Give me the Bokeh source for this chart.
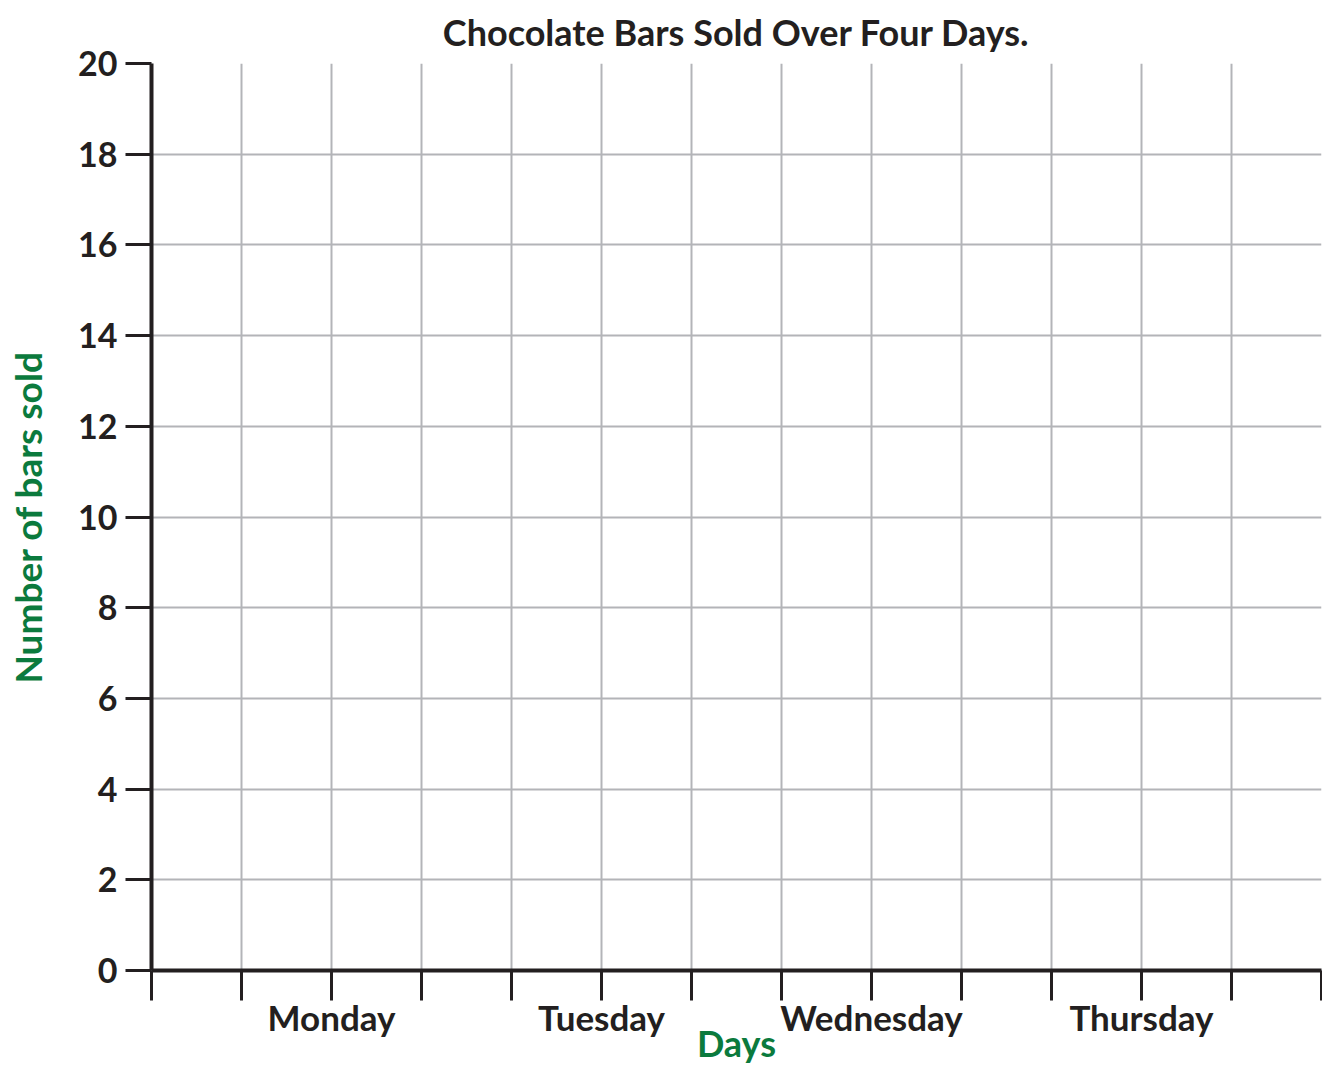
from bokeh.plotting import figure
from bokeh.models import Range1d, FixedTicker
from bokeh.embed import file_html
from bokeh.resources import INLINE

# ---- data ----
title_text = "Chocolate Bars Sold Over Four Days."
days = ["Monday", "Tuesday", "Wednesday", "Thursday"]
x_label = "Days"
y_label = "Number of bars sold"
y_ticks = [0, 2, 4, 6, 8, 10, 12, 14, 16, 18, 20]
n_columns = 13          # grid columns along the x axis
cols_per_day = 3        # each day occupies three columns
y_max = 20

DARK = "#231f20"
GREEN = "#0b7a3d"
GRID = "#b3b4b8"
FONT = "Lato"

x_ticks = list(range(0, n_columns + 1))
label_map = {t: "" for t in x_ticks}
for i, d in enumerate(days):
    label_map[1 + cols_per_day * i + 1] = d

p = figure(width=1322, height=1067, output_backend="svg", toolbar_location=None,
           x_range=Range1d(0, n_columns), y_range=Range1d(0, y_max),
           min_border_left=151, min_border_right=1, min_border_top=63, min_border_bottom=97)

p.title.text = title_text
p.title.align = "center"
p.title.vertical_align = "top"
p.title.text_font = FONT
p.title.text_font_size = "36px"
p.title.text_font_style = "bold"
p.title.text_color = DARK
p.title.standoff = 16
p.title.offset = 0

p.outline_line_color = None

# grids
p.xgrid.ticker = FixedTicker(ticks=x_ticks)
p.ygrid.ticker = FixedTicker(ticks=y_ticks)
for g in (p.xgrid, p.ygrid):
    g.grid_line_color = GRID
    g.grid_line_width = 2

# y axis
ya = p.yaxis[0]
ya.ticker = FixedTicker(ticks=y_ticks)
ya.axis_line_color = DARK
ya.axis_line_width = 4
ya.major_tick_line_color = DARK
ya.major_tick_line_width = 3
ya.major_tick_out = 26
ya.major_tick_in = 0
ya.minor_tick_line_color = None
ya.major_label_text_font = FONT
ya.major_label_text_font_size = "34px"
ya.major_label_text_font_style = "bold"
ya.major_label_text_color = DARK
ya.major_label_standoff = 8
ya.axis_label = y_label
ya.axis_label_text_font = FONT
ya.axis_label_text_font_size = "37px"
ya.axis_label_text_font_style = "bold"
ya.axis_label_text_color = GREEN
ya.axis_label_standoff = 25

# x axis
xa = p.xaxis[0]
xa.ticker = FixedTicker(ticks=x_ticks)
xa.major_label_overrides = label_map
xa.axis_line_color = DARK
xa.axis_line_width = 4
xa.major_tick_line_color = DARK
xa.major_tick_line_width = 3
xa.major_tick_out = 30
xa.major_tick_in = 0
xa.minor_tick_line_color = None
xa.major_label_text_font = FONT
xa.major_label_text_font_size = "35px"
xa.major_label_text_font_style = "bold"
xa.major_label_text_color = DARK
xa.major_label_standoff = -5
xa.axis_label = x_label
xa.axis_label_text_font = FONT
xa.axis_label_text_font_size = "36px"
xa.axis_label_text_font_style = "bold"
xa.axis_label_text_color = GREEN
xa.axis_label_standoff = -20

open("out.html", "w").write(file_html(p, INLINE))
